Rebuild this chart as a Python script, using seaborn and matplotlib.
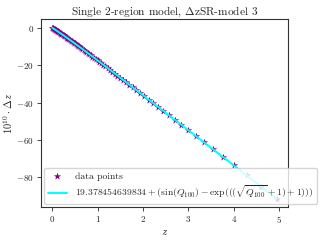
import numpy as np
import pandas as pd
import matplotlib
matplotlib.use("Agg")
import matplotlib.pyplot as plt
import seaborn as sns

# redshift samples and the measured offsets (in units of 1e-10)
z_vals = [0.0, 0.0101, 0.0204, 0.0309, 0.0417, 0.0526, 0.0638, 0.0753, 0.0870, 0.0989,
          0.1111, 0.1236, 0.1364, 0.1494, 0.1628, 0.1765, 0.1905, 0.2048, 0.2195, 0.2346,
          0.25, 0.2658, 0.2821, 0.2987, 0.3158, 0.3333, 0.3514, 0.3699, 0.3889, 0.4085,
          0.4286, 0.4493, 0.4706, 0.4925, 0.5152, 0.5385, 0.5625, 0.5873, 0.6129, 0.6393,
          0.6667, 0.6949, 0.7241, 0.7544, 0.7857, 0.8182, 0.8519, 0.8868, 0.9231, 0.9608,
          1.0, 1.0408, 1.0833, 1.1277, 1.1739, 1.2222, 1.2727, 1.3256, 1.3810, 1.4390,
          1.5, 1.5641, 1.6316, 1.7027, 1.7778, 1.8571, 1.9412, 2.0303, 2.125, 2.2258,
          2.3333, 2.4483, 2.5714, 2.7037, 2.8462, 3.0, 3.1667, 3.3478, 3.5455, 3.7619,
          4.0, 4.29, 4.61, 4.95]
dz_vals = [0.30, 0.14, -0.03, -0.19, -0.37, -0.54, -0.73, -0.91, -1.10, -1.30,
           -1.50, -1.71, -1.92, -2.14, -2.36, -2.59, -2.83, -3.07, -3.32, -3.57,
           -3.84, -4.11, -4.39, -4.67, -4.97, -5.27, -5.58, -5.91, -6.24, -6.58,
           -6.94, -7.30, -7.68, -8.07, -8.47, -8.89, -9.32, -9.76, -10.22, -10.70,
           -11.20, -11.71, -12.24, -12.79, -13.36, -13.96, -14.57, -15.22, -15.88, -16.58,
           -17.30, -18.06, -18.85, -19.67, -20.53, -21.43, -22.37, -23.36, -24.40, -25.48,
           -26.63, -27.83, -29.09, -30.43, -31.84, -33.34, -34.92, -36.60, -38.38, -40.29,
           -42.31, -44.48, -46.81, -49.31, -52.00, -54.90, -58.05, -61.48, -65.21, -69.30,
           -73.80, -79.28, -85.33, -91.76]

title = r"Single 2-region model, $\Delta$zSR-model 3"
fit_label = r"$19.378454639834 + (\sin(Q_{100}) - \exp(((\sqrt{Q_{100}} + 1) + 1)))$"

df = pd.DataFrame({"z": z_vals, "dz": dz_vals})

sns.set_theme(style="ticks")
plt.rcParams["font.family"] = "serif"
plt.rcParams["font.serif"] = ["cmr10", "DejaVu Serif"]
plt.rcParams["mathtext.fontset"] = "cm"
plt.rcParams["axes.formatter.use_mathtext"] = True
plt.rcParams["axes.unicode_minus"] = True

fig, ax = plt.subplots(figsize=(3.2, 2.4), dpi=100)
fig.subplots_adjust(left=0.128, right=0.9, top=0.92, bottom=0.137)

sns.scatterplot(data=df, x="z", y="dz", marker="*", color="purple", s=30,
                linewidth=0, label="data points", ax=ax, zorder=1)
sns.lineplot(data=df, x="z", y="dz", color="cyan", linewidth=1.4,
             label=fit_label, ax=ax, zorder=2)

ax.set_title(title, fontsize=8.2, pad=3)
ax.set_xlabel(r"$z$", fontsize=8, labelpad=2)
ax.set_ylabel(r"$10^{10}\cdot\Delta z$", fontsize=7.5, labelpad=1)
ax.set_xticks([0, 1, 2, 3, 4, 5])
ax.set_yticks([0, -20, -40, -60, -80])
ax.tick_params(labelsize=6.5, length=3, width=0.6, pad=2)
for sp in ax.spines.values():
    sp.set_linewidth(0.8)
    sp.set_color("#333333")

ax.legend(loc="lower left", fontsize=7, frameon=True, borderpad=0.4,
          handlelength=2.0, labelspacing=0.3, borderaxespad=0.3)

plt.savefig("out.png", dpi=100)
